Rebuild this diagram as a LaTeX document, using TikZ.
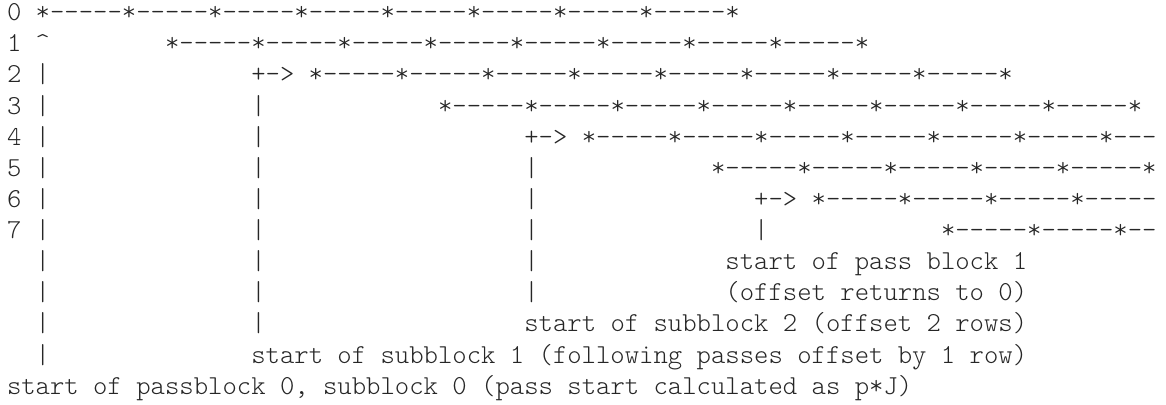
\documentclass[tikz,border=0pt]{standalone}
\usepackage{fontspec}
\setmonofont{Latin Modern Mono Light}
\usepackage{tikz}

\newcommand{\asciifont}{\fontsize{27.37}{31}\selectfont\ttfamily\frenchspacing}
\newcommand{\caret}{\textasciicircum}

\begin{document}
\begin{tikzpicture}[x=1pt,y=1pt,
  asciiline/.style={anchor=base west,inner sep=0pt,outer sep=0pt,text=black!85,font=\asciifont}]
\useasboundingbox (0,0) rectangle (1166,404);

% Rows of passes
\node[asciiline] (line0) at (7,383.3) {0~*-----*-----*-----*-----*-----*-----*-----*-----*};
\node[asciiline] (line1) at (7,352.2) {1~\caret~~~~~~~~*-----*-----*-----*-----*-----*-----*-----*-----*};
\node[asciiline] (line2) at (7,321.0) {2~|~~~~~~~~~~~~~~+->~*-----*-----*-----*-----*-----*-----*-----*-----*};
\node[asciiline] (line3) at (7,289.9) {3~|~~~~~~~~~~~~~~|~~~~~~~~~~~~*-----*-----*-----*-----*-----*-----*-----*-----*};
\node[asciiline] (line4) at (7,258.8) {4~|~~~~~~~~~~~~~~|~~~~~~~~~~~~~~~~~~+->~*-----*-----*-----*-----*-----*-----*---};
\node[asciiline] (line5) at (7,227.6) {5~|~~~~~~~~~~~~~~|~~~~~~~~~~~~~~~~~~|~~~~~~~~~~~~*-----*-----*-----*-----*-----*};
\node[asciiline] (line6) at (7,196.5) {6~|~~~~~~~~~~~~~~|~~~~~~~~~~~~~~~~~~|~~~~~~~~~~~~~~~+->~*-----*-----*-----*-----};
\node[asciiline] (line7) at (7,165.4) {7~|~~~~~~~~~~~~~~|~~~~~~~~~~~~~~~~~~|~~~~~~~~~~~~~~~|~~~~~~~~~~~~*-----*-----*--};

% Annotations
\node[asciiline] (line8) at (7,134.3) {~~|~~~~~~~~~~~~~~|~~~~~~~~~~~~~~~~~~|~~~~~~~~~~~~~start of pass block 1};
\node[asciiline] (line9) at (7,103.1) {~~|~~~~~~~~~~~~~~|~~~~~~~~~~~~~~~~~~|~~~~~~~~~~~~~(offset returns to 0)};
\node[asciiline] (line10) at (7,72.0) {~~|~~~~~~~~~~~~~~|~~~~~~~~~~~~~~~~~~start of subblock 2 (offset 2 rows)};
\node[asciiline] (line11) at (7,40.9) {~~|~~~~~~~~~~~~~~start of subblock 1 (following passes offset by 1 row)};
\node[asciiline] (line12) at (7,9.7) {start of passblock 0, subblock 0 (pass start calculated as p*J)};
\end{tikzpicture}
\end{document}
